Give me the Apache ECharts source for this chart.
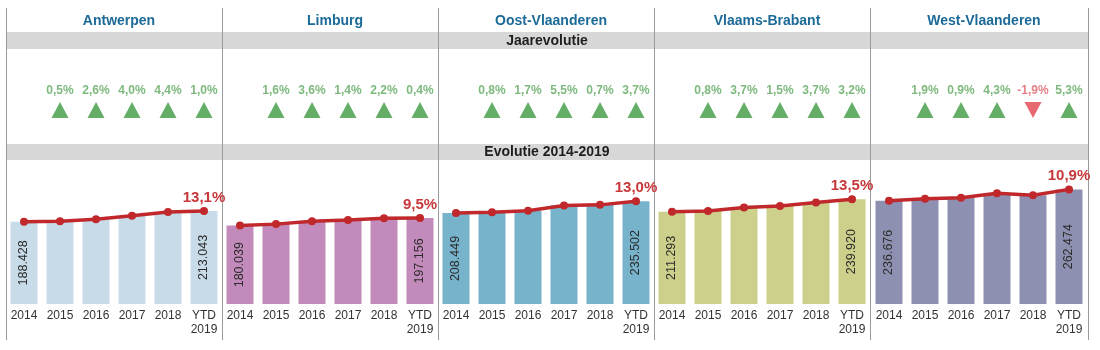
<!DOCTYPE html>
<html>
<head>
<meta charset="utf-8">
<script src="https://cdn.jsdelivr.net/npm/echarts@6/dist/echarts.min.js"></script>
<style>
  html, body { margin: 0; padding: 0; background: #fff; }
  #main { width: 1100px; height: 350px; }
</style>
</head>
<body>
<div id="main"></div>
<script>
// provincies en jaren
var provinces = ['Antwerpen', 'Limburg', 'Oost-Vlaanderen', 'Vlaams-Brabant', 'West-Vlaanderen'];
var years = ['2014', '2015', '2016', '2017', '2018', 'YTD\n2019'];

var antwerpen = [188428, 189370, 194290, 202060, 210950, 213043];
var limburg = [180039, 182920, 189500, 192160, 196390, 197156];
var oostVl = [208449, 210120, 213690, 225440, 227020, 235502];
var vlBrabant = [211293, 212980, 220860, 224180, 232470, 239920];
var westVl = [236676, 241170, 243340, 253810, 248990, 262474];

// jaarevolutie in % (2015 .. YTD 2019)
var yoyAntwerpen = [0.5, 2.6, 4.0, 4.4, 1.0];
var yoyLimburg = [1.6, 3.6, 1.4, 2.2, 0.4];
var yoyOostVl = [0.8, 1.7, 5.5, 0.7, 3.7];
var yoyVlBrabant = [0.8, 3.7, 1.5, 3.7, 3.2];
var yoyWestVl = [1.9, 0.9, 4.3, -1.9, 5.3];

// evolutie 2014-2019 in %
var totalGrowth = [13.1, 9.5, 13.0, 13.5, 10.9];

var values = [antwerpen, limburg, oostVl, vlBrabant, westVl];
var yoys = [yoyAntwerpen, yoyLimburg, yoyOostVl, yoyVlBrabant, yoyWestVl];
var barColors = ['#c8dbe8', '#c28bbb', '#78b3cc', '#cdd08b', '#8e90b1'];

var font = 'Liberation Sans, Arial, sans-serif';
var panelLeft = [6, 222, 438, 654, 871];
var panelW = 216;

function pct(v) {
    return v.toFixed(1).replace('.', ',') + '%';
}
function dots(v) {
    return String(v).replace(/\B(?=(\d{3})+(?!\d))/g, '.');
}

var myChart = echarts.init(document.getElementById('main'));

var titles = [], grids = [], xAxes = [], yAxes = [], series = [];

provinces.forEach(function (name, i) {
    var cx = panelLeft[i] + panelW / 2;
    titles.push({
        text: name,
        left: cx,
        top: 9,
        textAlign: 'center',
        textStyle: { color: '#1b6a98', fontSize: 14, fontWeight: 'bold', fontFamily: font }
    });

    // grid voor de pijltjes
    grids.push({ left: panelLeft[i], width: panelW, top: 101, height: 18 });
    // grid voor de staafjes
    grids.push({ left: panelLeft[i], width: panelW, top: 173, height: 131 });

    xAxes.push({
        type: 'category', gridIndex: 2 * i, data: years,
        axisLine: { show: false }, axisTick: { show: false }, axisLabel: { show: false }
    });
    xAxes.push({
        type: 'category', gridIndex: 2 * i + 1, data: years,
        axisLine: { show: false }, axisTick: { show: false },
        axisLabel: { color: '#333', fontSize: 12, fontFamily: font, margin: 5, lineHeight: 14, interval: 0 }
    });
    yAxes.push({ type: 'value', gridIndex: 2 * i, min: -1, max: 1, show: false });
    yAxes.push({ type: 'value', gridIndex: 2 * i + 1, min: 0, max: 300000, show: false });

    var yoy = yoys[i];
    var arrowData = ['-'].concat(yoy.map(function (v) {
        var up = v >= 0;
        return {
            value: 0,
            symbolRotate: up ? 0 : 180,
            itemStyle: { color: up ? '#3e9a42' : '#e2424f' },
            label: { color: up ? '#5ea85c' : '#e0606c' }
        };
    }));
    series.push({
        type: 'scatter', xAxisIndex: 2 * i, yAxisIndex: 2 * i,
        symbol: 'triangle', symbolSize: [17, 16],
        data: arrowData,
        label: {
            show: true, position: 'top', distance: 5,
            fontSize: 12, fontWeight: 'bold', fontFamily: font,
            formatter: function (p) { return pct(yoy[p.dataIndex - 1]); }
        },
        silent: true
    });

    var vals = values[i];
    series.push({
        type: 'bar', xAxisIndex: 2 * i + 1, yAxisIndex: 2 * i + 1,
        barCategoryGap: '25%',
        itemStyle: { color: barColors[i] },
        data: vals.map(function (v, j) {
            var show = j === 0 || j === vals.length - 1;
            return {
                value: v,
                label: {
                    show: show, position: 'inside', rotate: 90,
                    color: '#2b2b2b', fontSize: 12.5, fontFamily: font,
                    formatter: function (p) { return dots(p.value); }
                }
            };
        }),
        silent: true
    });
    series.push({
        type: 'line', xAxisIndex: 2 * i + 1, yAxisIndex: 2 * i + 1,
        symbol: 'circle', symbolSize: 8,
        lineStyle: { color: '#c0282c', width: 3.5 },
        itemStyle: { color: '#c0282c' },
        data: vals.map(function (v, j) {
            if (j !== vals.length - 1) return v;
            return {
                value: v,
                label: {
                    show: true, position: 'top', distance: 2,
                    color: '#c8383a', fontSize: 15, fontWeight: 'bold', fontFamily: font,
                    formatter: pct(totalGrowth[i])
                }
            };
        }),
        silent: true,
        z: 5
    });
});

var graphics = [
    { type: 'rect', shape: { x: 6, y: 32, width: 1082, height: 17 }, style: { fill: '#d7d7d7' }, z: -10 },
    { type: 'rect', shape: { x: 6, y: 144, width: 1082, height: 16 }, style: { fill: '#d7d7d7' }, z: -10 },
    { type: 'text', x: 547, y: 41, style: { text: 'Jaarevolutie', fill: '#1e1e1e', font: 'bold 14px ' + font, textAlign: 'center', textVerticalAlign: 'middle' } },
    { type: 'text', x: 547, y: 152, style: { text: 'Evolutie 2014-2019', fill: '#1e1e1e', font: 'bold 14px ' + font, textAlign: 'center', textVerticalAlign: 'middle' } }
];
[6, 222, 438, 654, 870, 1088].forEach(function (x) {
    graphics.push({
        type: 'line', shape: { x1: x + 0.5, y1: 8, x2: x + 0.5, y2: 340 },
        style: { stroke: '#9a9a9a', lineWidth: 1 }, z: -5
    });
});

var option = {
    animation: false,
    backgroundColor: '#fff',
    title: titles,
    grid: grids,
    xAxis: xAxes,
    yAxis: yAxes,
    series: series,
    graphic: graphics
};
myChart.setOption(option);
</script>
</body>
</html>
